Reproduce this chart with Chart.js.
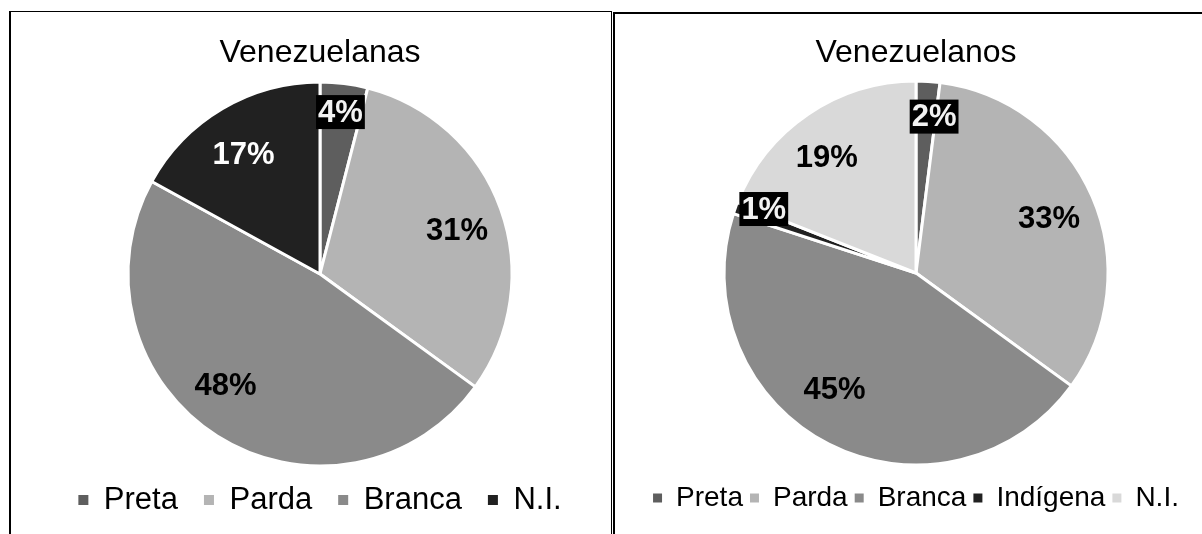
<!DOCTYPE html>
<html>
<head>
<meta charset="utf-8">
<script src="https://cdn.jsdelivr.net/npm/chart.js@4.4.1/dist/chart.umd.min.js"></script>
<style>
  html, body { margin: 0; padding: 0; background: #fff; }
  body { width: 1202px; height: 534px; overflow: hidden; position: relative; }
  .box { position: absolute; box-sizing: border-box; border-color: #000; border-style: solid; }
  #boxL { left: 9px; top: 11px; width: 603px; height: 600px; border-width: 1px 1px 0 2px; }
  #boxR { left: 613px; top: 12px; width: 700px; height: 600px; border-width: 2px 0 0 2px; }
  canvas { position: absolute; }
  #cL { left: 11px; top: 12px; }
  #cR { left: 615px; top: 14px; }
</style>
</head>
<body>
<div class="box" id="boxL"></div>
<div class="box" id="boxR"></div>
<canvas id="cL" width="600" height="522"></canvas>
<canvas id="cR" width="602" height="520"></canvas>
<script>
// ---- data ----
const leftTitle = 'Venezuelanas';
const leftCategories = ['Preta', 'Parda', 'Branca', 'N.I.'];
const leftValues = [4, 31, 48, 17];
const leftColors = ['#5e5e5e', '#b4b4b4', '#8a8a8a', '#212121'];

const rightTitle = 'Venezuelanos';
const rightCategories = ['Preta', 'Parda', 'Branca', 'Indígena', 'N.I.'];
const rightValues = [2, 33, 45, 1, 19];
const rightColors = ['#5e5e5e', '#b4b4b4', '#8a8a8a', '#212121', '#d9d9d9'];

const FONT = "'Liberation Sans', Arial, Helvetica, sans-serif";

// slice value labels drawn from arc geometry
const sliceLabels = {
  id: 'sliceLabels',
  afterDatasetsDraw(chart, args, opts) {
    const ctx = chart.ctx;
    const meta = chart.getDatasetMeta(0);
    const ds = chart.data.datasets[0];
    ctx.save();
    ctx.font = 'bold ' + opts.size + 'px ' + FONT;
    ctx.textAlign = 'center';
    ctx.textBaseline = 'middle';
    meta.data.forEach((arc, i) => {
      const p = arc.getProps(['x', 'y', 'startAngle', 'endAngle', 'outerRadius'], true);
      const a = (p.startAngle + p.endAngle) / 2 + (opts.shift[i] || 0) * Math.PI / 180;
      const r = p.outerRadius * opts.radial[i];
      const px = p.x + Math.cos(a) * r;
      const py = p.y + Math.sin(a) * r;
      const text = ds.data[i] + '%';
      if (opts.boxed[i]) {
        const w = ctx.measureText(text).width + 4;
        const h = 34;
        ctx.fillStyle = '#000';
        ctx.fillRect(px - w / 2, py - h / 2, w, h);
      }
      ctx.fillStyle = opts.colors[i];
      ctx.fillText(text, px, py + 1);
    });
    ctx.restore();
  }
};

function genLabels(chart) {
  const base = (Chart.overrides.pie && Chart.overrides.pie.plugins && Chart.overrides.pie.plugins.legend)
    ? Chart.overrides.pie.plugins.legend.labels.generateLabels
    : Chart.overrides.doughnut.plugins.legend.labels.generateLabels;
  const items = base(chart);
  items.forEach(it => { it.lineWidth = 0; it.strokeStyle = it.fillStyle; });
  return items;
}

function makePie(id, title, cats, vals, colors, cfg) {
  return new Chart(document.getElementById(id), {
    type: 'pie',
    data: {
      labels: cats,
      datasets: [{
        data: vals,
        backgroundColor: colors,
        borderColor: '#ffffff',
        borderWidth: 3,
        radius: cfg.radius,
        clip: false
      }]
    },
    options: {
      responsive: false,
      animation: false,
      events: [],
      layout: { padding: cfg.padding },
      plugins: {
        title: {
          display: true,
          text: title,
          color: '#000',
          font: { family: FONT, size: 32, weight: 'normal', lineHeight: 1 },
          padding: { top: cfg.titleTop, bottom: cfg.titleBottom }
        },
        legend: {
          display: true,
          position: 'bottom',
          labels: {
            color: '#000',
            font: { family: FONT, size: cfg.legendSize },
            boxWidth: cfg.box,
            boxHeight: cfg.box,
            padding: cfg.legendPad,
            generateLabels: genLabels
          }
        },
        tooltip: { enabled: false },
        sliceLabels: cfg.labels
      }
    },
    plugins: [sliceLabels]
  });
}

makePie('cL', leftTitle, leftCategories, leftValues, leftColors, {
  radius: 192,
  padding: { left: 18, right: 0, top: 0, bottom: 8.5 },
  titleTop: 25, titleBottom: 20.5,
  legendSize: 31, legendPad: 26, box: 10,
  labels: {
    size: 31,
    radial: [0.85, 0.75, 0.76, 0.74],
    shift: [0, 2, 8, -2],
    boxed: [true, false, false, false],
    colors: ['#f2f2f2', '#000', '#000', '#ffffff']
  }
});

makePie('cR', rightTitle, rightCategories, rightValues, rightColors, {
  radius: 192,
  padding: { left: 0, right: 0, top: 0, bottom: 12 },
  titleTop: 23, titleBottom: 0,
  legendSize: 28, legendPad: 7, box: 9,
  labels: {
    size: 31,
    radial: [0.82, 0.75, 0.74, 0.86, 0.76],
    shift: [3, 1, 8, 3, -3.5],
    boxed: [true, false, false, true, false],
    colors: ['#f2f2f2', '#000', '#000', '#f2f2f2', '#000']
  }
});
</script>
</body>
</html>
